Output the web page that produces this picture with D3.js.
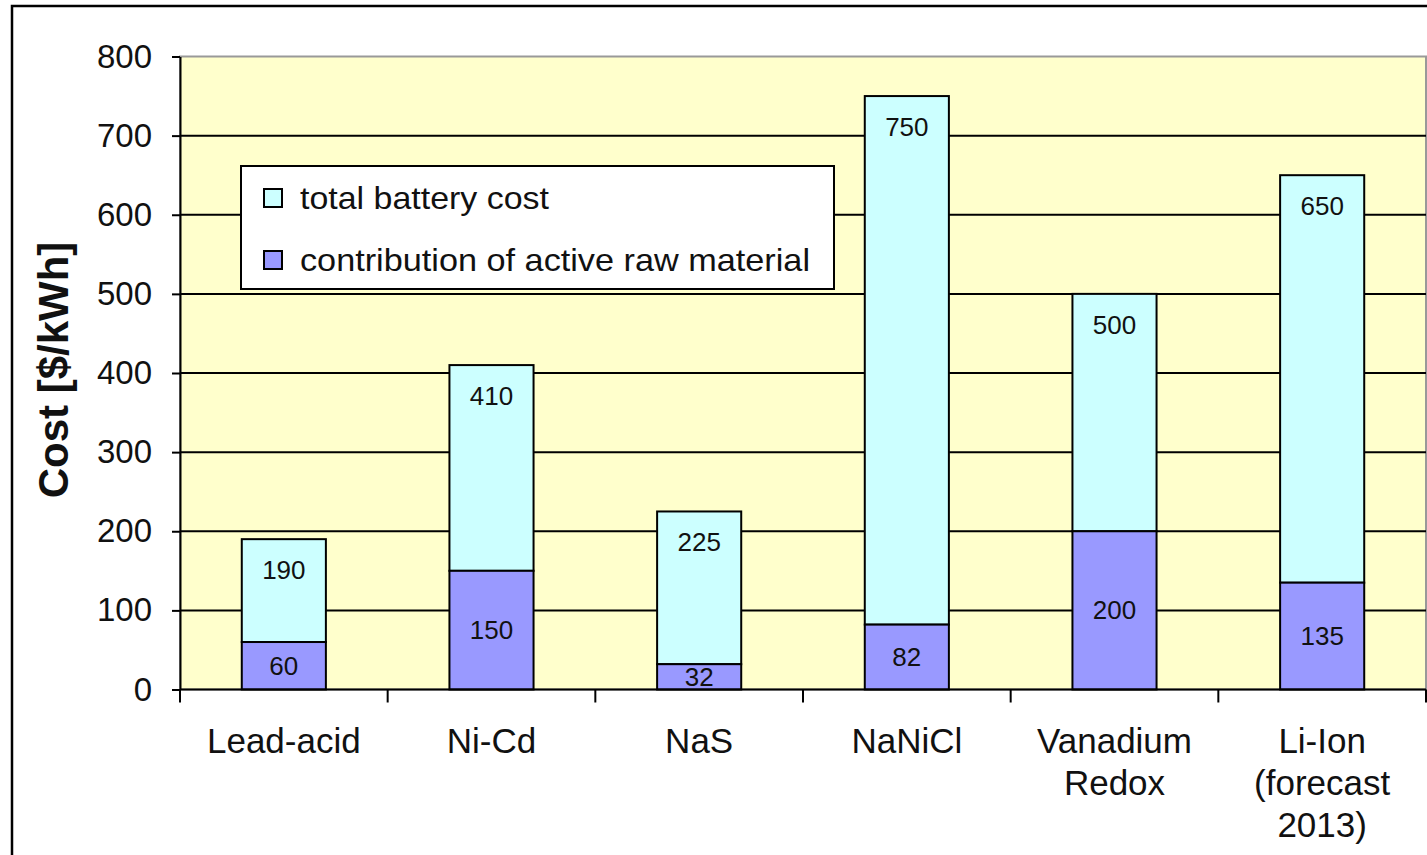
<!DOCTYPE html>
<html>
<head>
<meta charset="utf-8">
<script src="https://cdn.jsdelivr.net/npm/d3@7"></script>
<style>
  html, body { margin: 0; padding: 0; background: #fff; }
  svg { display: block; font-family: "Liberation Sans", Arial, Helvetica, sans-serif; }
</style>
</head>
<body>
<svg id="chart" width="1427" height="855"></svg>
<script>
// Battery technologies and their costs in $/kWh
const categories = ["Lead-acid", "Ni-Cd", "NaS", "NaNiCl", "Vanadium\nRedox", "Li-Ion\n(forecast\n2013)"];
const totalCost = [190, 410, 225, 750, 500, 650];
const rawMaterialCost = [60, 150, 32, 82, 200, 135];
const yTicks = [0, 100, 200, 300, 400, 500, 600, 700, 800];
const seriesNames = ["total battery cost", "contribution of active raw material"];

const colors = { plot: "#FFFFCC", total: "#CCFFFF", raw: "#9999FF", ink: "#111" };

const svg = d3.select("#chart");
const W = 1427, H = 855;
const plot = { left: 180, right: 1426, top: 56.5, bottom: 689.5 };

// outer chart frame (runs past the right and bottom edges)
svg.append("rect")
  .attr("x", 12).attr("y", 6).attr("width", W + 20).attr("height", H + 20)
  .attr("fill", "#fff").attr("stroke", "#000").attr("stroke-width", 2.5);

const x = d3.scaleBand().domain(categories).range([plot.left, plot.right])
  .paddingInner(0.595).paddingOuter(0.2975);
const y = d3.scaleLinear().domain([0, 800]).range([plot.bottom, plot.top]);

// plot background
svg.append("rect")
  .attr("x", plot.left).attr("y", plot.top)
  .attr("width", plot.right - plot.left).attr("height", plot.bottom - plot.top)
  .attr("fill", colors.plot).attr("stroke", "#999").attr("stroke-width", 2);

// horizontal gridlines
svg.append("g").selectAll("line")
  .data(yTicks.filter(d => d > 0 && d < 800))
  .join("line")
  .attr("x1", plot.left).attr("x2", plot.right)
  .attr("y1", d => y(d)).attr("y2", d => y(d))
  .attr("stroke", "#000").attr("stroke-width", 2);

// y axis
const yAxis = svg.append("g")
  .attr("transform", `translate(${plot.left},0)`)
  .call(d3.axisLeft(y).tickValues(yTicks).tickSize(8).tickPadding(20).tickSizeOuter(0));
yAxis.select(".domain").attr("stroke", "#000").attr("stroke-width", 2);
yAxis.selectAll(".tick line").attr("stroke", "#000").attr("stroke-width", 2);
yAxis.selectAll(".tick text")
  .attr("font-size", 33).attr("fill", colors.ink)
  .attr("font-family", "Liberation Sans, Arial, sans-serif");

// bars: total cost behind, raw material contribution in front
const barG = svg.append("g");
barG.selectAll("rect.total")
  .data(categories)
  .join("rect")
  .attr("class", "total")
  .attr("x", d => x(d))
  .attr("y", (d, i) => y(totalCost[i]))
  .attr("width", x.bandwidth())
  .attr("height", (d, i) => y(rawMaterialCost[i]) - y(totalCost[i]))
  .attr("fill", colors.total).attr("stroke", "#000").attr("stroke-width", 2);

barG.selectAll("rect.raw")
  .data(categories)
  .join("rect")
  .attr("class", "raw")
  .attr("x", d => x(d))
  .attr("y", (d, i) => y(rawMaterialCost[i]))
  .attr("width", x.bandwidth())
  .attr("height", (d, i) => y(0) - y(rawMaterialCost[i]))
  .attr("fill", colors.raw).attr("stroke", "#000").attr("stroke-width", 2);

// value labels
barG.selectAll("text.totalLbl")
  .data(categories)
  .join("text")
  .attr("x", d => x(d) + x.bandwidth() / 2)
  .attr("y", (d, i) => y(totalCost[i]) + 31)
  .attr("text-anchor", "middle").attr("dominant-baseline", "central")
  .attr("font-size", 26).attr("fill", colors.ink)
  .text((d, i) => totalCost[i]);

barG.selectAll("text.rawLbl")
  .data(categories)
  .join("text")
  .attr("x", d => x(d) + x.bandwidth() / 2)
  .attr("y", (d, i) => (y(rawMaterialCost[i]) + y(0)) / 2)
  .attr("text-anchor", "middle").attr("dominant-baseline", "central")
  .attr("font-size", 26).attr("fill", colors.ink)
  .text((d, i) => rawMaterialCost[i]);

// x axis baseline and category separators
const step = x.step();
const sepX = d3.range(categories.length + 1).map(i => plot.left + i * step);
svg.append("line")
  .attr("x1", plot.left).attr("x2", plot.right)
  .attr("y1", plot.bottom).attr("y2", plot.bottom)
  .attr("stroke", "#000").attr("stroke-width", 2);
svg.append("g").selectAll("line")
  .data(sepX)
  .join("line")
  .attr("x1", d => d).attr("x2", d => d)
  .attr("y1", plot.bottom).attr("y2", plot.bottom + 13)
  .attr("stroke", "#000").attr("stroke-width", 2);

// category labels (multi-line)
const catG = svg.append("g");
categories.forEach(c => {
  const lines = c.split("\n");
  const t = catG.append("text")
    .attr("x", x(c) + x.bandwidth() / 2)
    .attr("y", 753)
    .attr("text-anchor", "middle")
    .attr("font-size", 35).attr("fill", colors.ink);
  lines.forEach((ln, k) => {
    t.append("tspan")
      .attr("x", x(c) + x.bandwidth() / 2)
      .attr("dy", k === 0 ? 0 : 42)
      .text(ln);
  });
});

// y axis title
svg.append("text")
  .attr("transform", `translate(68,${(plot.top + plot.bottom) / 2 - 3}) rotate(-90)`)
  .attr("text-anchor", "middle")
  .attr("font-size", 42).attr("font-weight", "bold").attr("fill", colors.ink)
  .text("Cost [$/kWh]");

// legend
const legend = svg.append("g");
legend.append("rect")
  .attr("x", 241).attr("y", 166).attr("width", 593).attr("height", 123)
  .attr("fill", "#fff").attr("stroke", "#000").attr("stroke-width", 2);
const legendColors = [colors.total, colors.raw];
seriesNames.forEach((name, i) => {
  const cy = 198 + i * 62;
  legend.append("rect")
    .attr("x", 264).attr("y", cy - 9).attr("width", 18).attr("height", 18)
    .attr("fill", legendColors[i]).attr("stroke", "#000").attr("stroke-width", 2);
  legend.append("text")
    .attr("x", 300).attr("y", cy)
    .attr("dominant-baseline", "central")
    .attr("font-size", 32).attr("fill", colors.ink)
    .attr("textLength", i === 0 ? 249 : 510).attr("lengthAdjust", "spacingAndGlyphs")
    .text(name);
});
</script>
</body>
</html>
